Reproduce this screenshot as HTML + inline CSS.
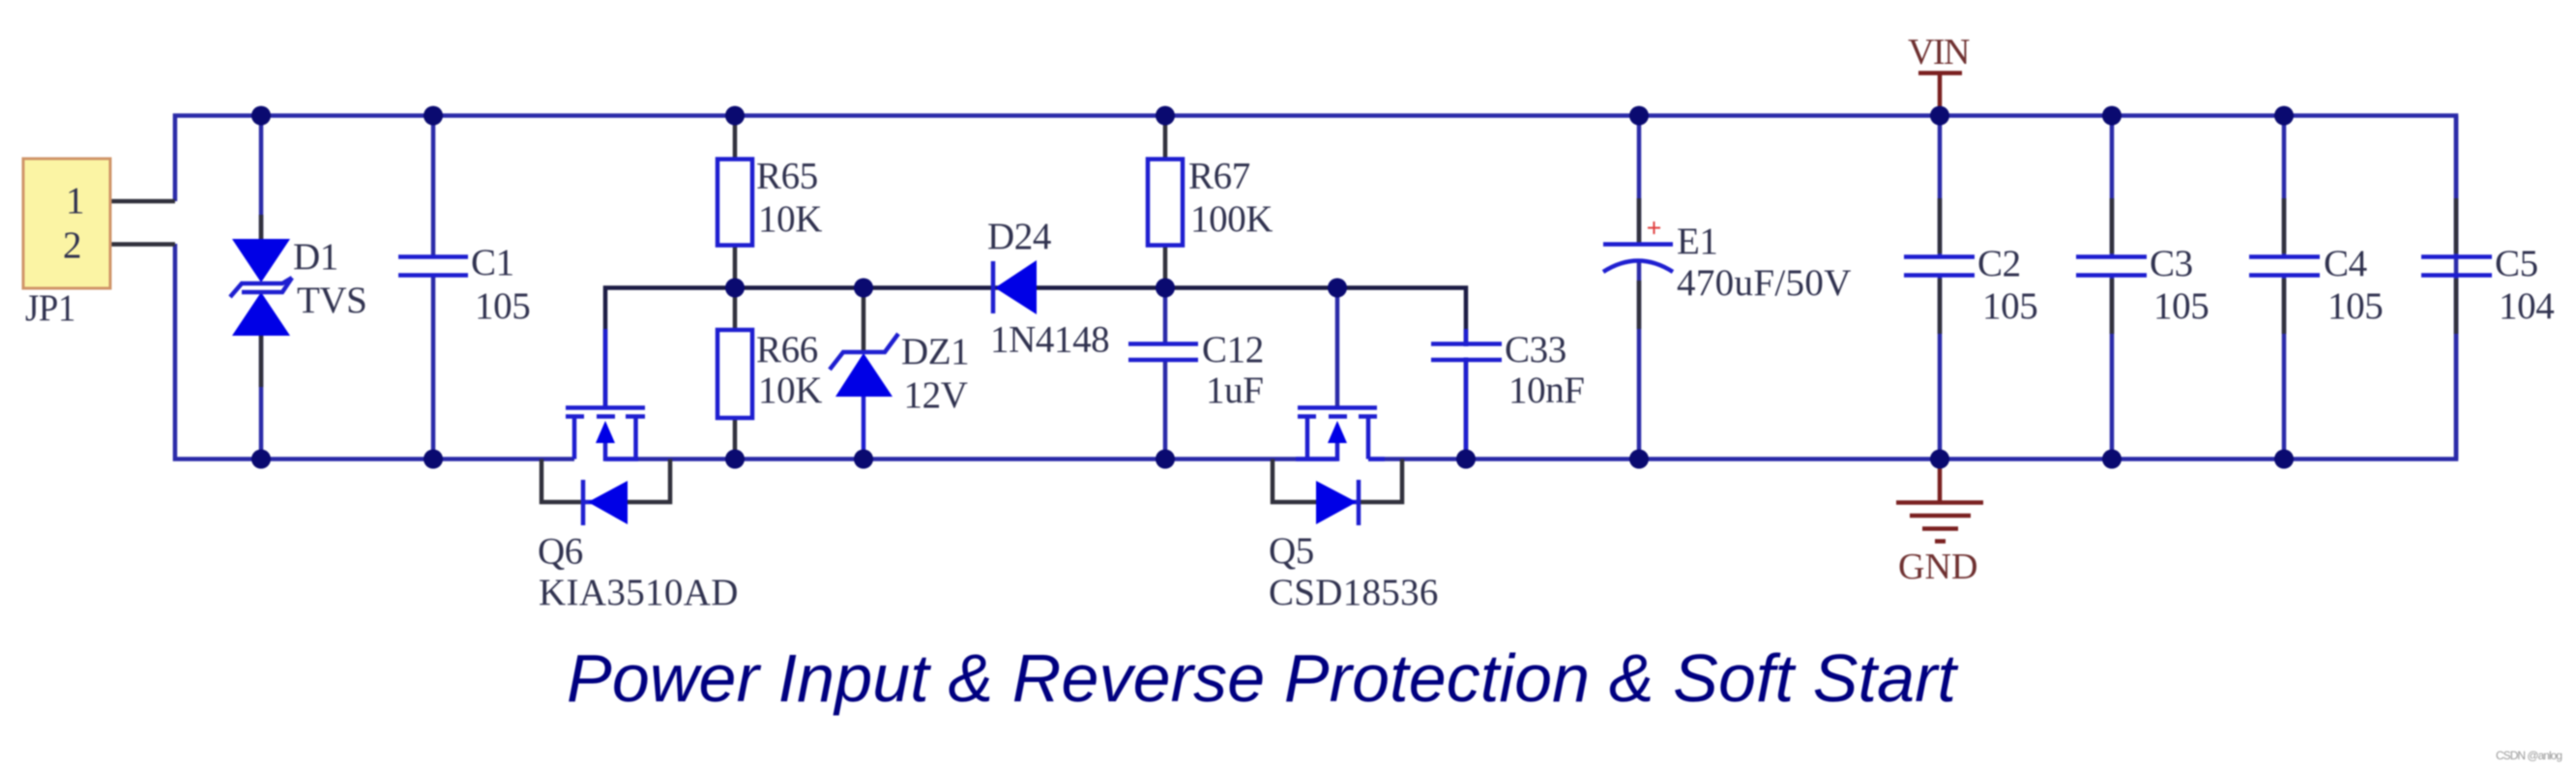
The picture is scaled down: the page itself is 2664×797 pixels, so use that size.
<!DOCTYPE html>
<html><head><meta charset="utf-8"><style>
html,body{margin:0;padding:0;background:#fff;width:2664px;height:797px;overflow:hidden}
svg{display:block;filter:blur(.9px)}
text{font-family:"Liberation Serif",serif;font-size:39px;letter-spacing:-.4px;fill:#30324f}
.w{stroke:#2a2aa8;stroke-width:4.500;fill:none}
.d{stroke:#30303c;stroke-width:4.500;fill:none}
.b{stroke:#1e1ed0;stroke-width:4.500;fill:none}
.f{fill:#0000e6;stroke:none}
.r{stroke:#7a2020;stroke-width:4.500;fill:none}
.rt{fill:#6e3030;font-size:38px}
</style></head><body>
<svg width="2664" height="797" viewBox="0 0 2664 797" xmlns="http://www.w3.org/2000/svg">
<rect width="2664" height="797" fill="#fff"/>
<!-- main rails -->
<path class="w" d="M181 208V119.500H2540V474.500H1415M1383 474.500H626M594 474.500H181V252"/>
<path class="d" d="M114 208H181M114 252.500H181"/>
<!-- JP1 -->
<rect x="24" y="164" width="90" height="134" fill="#fbf4a4" stroke="#cf9468" stroke-width="3"/>
<text x="68" y="220">1</text><text x="65" y="266">2</text>
<text x="26" y="331" textLength="52" lengthAdjust="spacingAndGlyphs">JP1</text>
<!-- D1 -->
<path class="w" d="M270 119.500V247M270 346V474.500"/>
<path class="d" d="M270 222V247M270 346V400"/>
<path class="f" d="M240 247H300L270 292ZM270 302L300 347H240Z"/>
<path class="b" d="M302 287L292 293H250L238 307M302 287L292 302H250" stroke-width="3.500"/>
<text x="303" y="278">D1</text><text x="307" y="323">TVS</text>
<!-- C1 -->
<path class="w" d="M448 119.500V265M448 285V474.500"/>
<path class="b" d="M412 265.500H484M412 284.500H484" stroke-width="5"/>
<text x="487" y="284">C1</text><text x="491" y="329">105</text>
<!-- R65 R66 -->
<path class="d" d="M760 119.500V164M760 254V341M760 432V474.500"/>
<rect class="b" x="742" y="164.500" width="36" height="89"/>
<rect class="b" x="742" y="341" width="36" height="91"/>
<text x="782" y="194.500">R65</text><text x="784" y="239">10K</text>
<text x="782" y="374">R66</text><text x="784" y="416">10K</text>
<!-- mid wire -->
<path d="M626 421V297.500H1516V474.500" fill="none" stroke="#1c1c44" stroke-width="4.500"/>
<path class="b" d="M626 340V421M1516 340V474"/>
<!-- Q6 -->
<path class="b" d="M585 421.500H667M585 430.500H604M617 430.500H636M647 430.500H667M594 430.500V474.500M657.500 430.500V474.500M626 457V474.500H660"/>
<path class="f" d="M626 435L636 458H616Z"/>
<path class="d" d="M560 474.500V519H603M693 474.500V519H649"/>
<path class="b" d="M603 519H649M603 496V543"/>
<path class="f" d="M608 519L649 497V542Z"/>
<text x="556" y="582.500">Q6</text>
<text x="557" y="625" textLength="206">KIA3510AD</text>
<!-- DZ1 -->
<path class="d" d="M893 297.500V365"/>
<path class="b" d="M893 410V474.500"/>
<path class="f" d="M893 365L923 410H864Z"/>
<path class="b" d="M858 382L872 364H915L929 345"/>
<text x="932" y="376">DZ1</text><text x="934.500" y="421">12V</text>
<!-- D24 -->
<path class="f" d="M1029 297.500L1072 269V325Z"/>
<path class="b" d="M1027 270V324"/>
<text x="1021" y="257">D24</text><text x="1024" y="363.500">1N4148</text>
<!-- R67 -->
<path class="d" d="M1205 119.500V164M1205 254V297"/>
<rect class="b" x="1187" y="164.500" width="36" height="89"/>
<text x="1229" y="194.500">R67</text><text x="1231" y="239">100K</text>
<!-- C12 -->
<path class="w" d="M1205 297.500V355M1205 372V474.500"/>
<path class="b" d="M1167 355.500H1239M1167 372H1239" stroke-width="5"/>
<text x="1243" y="374">C12</text><text x="1247" y="416">1uF</text>
<!-- Q5 -->
<path class="w" d="M1383 297.500V421"/>
<path class="b" d="M1342 421.500H1424M1342 430.500H1361M1374 430.500H1393M1405 430.500H1424M1352 430.500V474.500M1415 430.500V474.500M1383 457V474.500H1340M1415 474.500H1432"/>
<path class="f" d="M1383 435L1393 458H1373Z"/>
<path class="d" d="M1316 474.500V519H1361M1450 474.500V519H1405"/>
<path class="b" d="M1361 519H1405M1405 496V543"/>
<path class="f" d="M1403 519L1361 497V542Z"/>
<text x="1312" y="582">Q5</text>
<text x="1312" y="625" textLength="175">CSD18536</text>
<!-- C33 -->
<path d="M1480 355.500H1553M1480 372H1553" class="b" stroke-width="5"/>
<rect x="1510" y="358" width="12" height="11.500" fill="#fff"/>
<text x="1556" y="374">C33</text><text x="1560" y="416">10nF</text>
<!-- E1 -->
<path class="w" d="M1695 119.500V252M1695 270V474.500"/>
<path class="d" d="M1695 205V252M1695 290V340"/>
<path class="b" d="M1658 252.500H1730" stroke-width="5"/>
<path class="b" d="M1658 281Q1694 258 1730 281" stroke-width="4.500"/>
<path d="M1704 235.500H1717M1710.500 229V242" stroke="#e04040" stroke-width="2" fill="none"/>
<text x="1734" y="262">E1</text>
<text x="1734" y="305" textLength="180">470uF/50V</text>
<!-- C2-C5 -->
<path class="w" d="M2006 119.500V265M2006 285V474.500M2184 119.500V265M2184 285V474.500M2362 119.500V265M2362 285V474.500M2540 119.500V265M2540 285V474.500"/>
<path class="d" d="M2006 205V262M2006 288V345M2184 205V262M2184 288V345M2362 205V262M2362 288V345M2540 205V262M2540 288V345" stroke-width="3"/>
<path class="b" stroke-width="5" d="M1969 265.500H2042M1969 284.500H2042M2147 265.500H2220M2147 284.500H2220M2326 265.500H2399M2326 284.500H2399M2504 265.500H2577M2504 284.500H2577"/>
<text x="2045" y="285">C2</text><text x="2050" y="329">105</text>
<text x="2223" y="285">C3</text><text x="2227" y="329">105</text>
<text x="2403" y="285">C4</text><text x="2407" y="329">105</text>
<text x="2580" y="285">C5</text><text x="2584" y="329">104</text>
<!-- VIN GND -->
<path class="r" d="M1984 75.500H2029M2006 75.500V119"/>
<text class="rt" x="1973" y="66" textLength="64">VIN</text>
<path class="r" d="M2006 475V519.500M1961 519.500H2051M1975 533H2038M1988 546.500H2025M2001 559.500H2012"/>
<text class="rt" x="1963" y="598" textLength="82">GND</text>
<!-- junction dots -->
<g fill="#0a0a70">
<circle cx="270" cy="119.500" r="10"/><circle cx="448" cy="119.500" r="10"/><circle cx="760" cy="119.500" r="10"/><circle cx="1205" cy="119.500" r="10"/><circle cx="1695" cy="119.500" r="10"/><circle cx="2006" cy="119.500" r="10"/><circle cx="2184" cy="119.500" r="10"/><circle cx="2362" cy="119.500" r="10"/>
<circle cx="760" cy="297.500" r="10"/><circle cx="893" cy="297.500" r="10"/><circle cx="1205" cy="297.500" r="10"/><circle cx="1383" cy="297.500" r="10"/>
<circle cx="270" cy="474.500" r="10"/><circle cx="448" cy="474.500" r="10"/><circle cx="760" cy="474.500" r="10"/><circle cx="893" cy="474.500" r="10"/><circle cx="1205" cy="474.500" r="10"/><circle cx="1516" cy="474.500" r="10"/><circle cx="1695" cy="474.500" r="10"/><circle cx="2006" cy="474.500" r="10"/><circle cx="2184" cy="474.500" r="10"/><circle cx="2362" cy="474.500" r="10"/>
</g>
<!-- title -->
<text x="586" y="725" textLength="1437" style="font-family:'Liberation Sans',sans-serif;font-style:italic;font-size:70px;letter-spacing:0;fill:#000080">Power Input &amp; Reverse Protection &amp; Soft Start</text>
<text x="2581" y="785" textLength="69" style="font-family:'Liberation Sans',sans-serif;font-size:12px;letter-spacing:0;fill:#999">CSDN @anlog</text>
</svg>
</body></html>
